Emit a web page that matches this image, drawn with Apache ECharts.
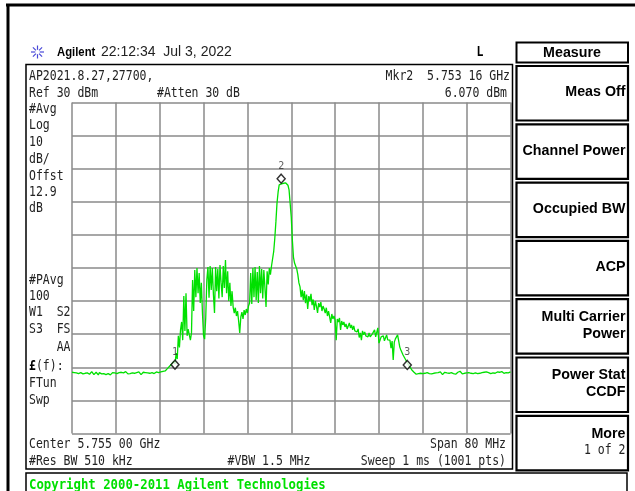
<!DOCTYPE html>
<html><head><meta charset="utf-8">
<script src="https://cdn.jsdelivr.net/npm/echarts@6/dist/echarts.min.js"></script>
<style>html,body{margin:0;padding:0;background:#fff}#c{width:635px;height:491px}</style>
</head><body><div id="c"></div>
<script>
// ---------------- DATA ----------------
const startFreqMHz = 5715;
const spanMHz = 80;
const stepMHz = 0.2;
const refLevelDbm = 30;
const dbPerDiv = 10;
const divisions = 10;

// trace level (dBm), one value per 0.2 MHz from 5715 to 5795 MHz
const levels = [
-51.5,-51.9,-51.6,-52.2,-51.7,-51.4,-51.9,-52.3,-51.6,-51.8,
-52.0,-51.5,-51.8,-52.4,-51.7,-51.6,-52.1,-51.9,-51.3,-51.8,
-52.2,-51.7,-51.5,-51.9,-52.3,-51.6,-51.8,-52.0,-51.4,-51.9,
-51.7,-52.2,-51.6,-51.9,-51.5,-52.3,-51.8,-51.6,-52.0,-51.7,
-51.4,-51.9,-52.2,-51.6,-51.8,-51.5,-52.1,-51.7,-51.9,-51.3,
-51.8,-52.0,-51.6,-51.9,-52.3,-51.7,-51.5,-51.8,-52.1,-51.6,
-51.9,-51.4,-51.7,-52.2,-51.8,-51.5,-51.9,-51.6,-52.0,-51.7,
-51.5,-51.8,-52.1,-51.6,-51.3,-51.9,-51.7,-51.4,-51.8,-51.6,
-51.7,-51.4,-51.6,-51.2,-50.9,-51.1,-50.6,-50.4,-50.0,-49.7,
-49.4,-49.0,-48.7,-48.2,-49.0,-45.7,-47.5,-40.5,-44.0,-38.7,
-36.3,-41.8,-28.5,-39.0,-27.6,-40.5,-38.5,-40.2,-41.8,-39.6,
-23.6,-33.0,-20.6,-28.8,-20.0,-27.6,-21.5,-30.6,-24.5,-33.6,
-40.5,-41.5,-35.0,-23.6,-19.7,-29.0,-19.4,-26.6,-20.0,-28.0,
-33.6,-19.7,-27.0,-20.3,-29.2,-19.1,-24.5,-28.8,-19.4,-26.0,
-17.6,-27.6,-21.0,-30.0,-24.5,-31.5,-27.0,-31.8,-33.6,-32.0,
-34.5,-33.0,-36.0,-39.6,-34.8,-33.3,-35.4,-32.7,-34.2,-32.4,
-33.6,-31.5,-30.6,-21.5,-30.9,-20.0,-28.8,-19.7,-29.7,-21.2,
-30.6,-19.4,-27.6,-20.3,-29.2,-20.6,-26.0,-31.8,-21.0,-25.0,
-20.0,-22.0,-19.4,-19.7,-15.0,-11.0,-6.0,-0.4,2.9,5.1,
5.7,5.4,5.8,5.6,5.3,5.7,5.5,5.0,3.6,-0.5,
-4.6,-11.5,-16.7,-18.5,-19.4,-20.3,-22.0,-24.5,-25.7,-28.8,
-26.6,-29.7,-27.0,-30.6,-28.0,-32.4,-28.5,-30.0,-27.8,-31.2,
-29.5,-32.7,-30.0,-31.5,-33.6,-30.6,-31.8,-30.3,-33.0,-31.5,
-32.4,-33.6,-32.0,-34.5,-33.0,-34.8,-36.6,-33.9,-35.4,-34.5,
-35.7,-41.8,-35.4,-36.3,-35.1,-38.7,-36.0,-37.2,-36.3,-37.8,
-36.9,-38.4,-37.5,-36.6,-38.1,-37.2,-38.7,-37.5,-39.0,-38.4,
-39.3,-38.4,-41.0,-39.6,-41.8,-39.0,-40.2,-39.3,-40.5,-39.9,
-40.8,-39.6,-40.8,-41.4,-39.9,-40.5,-38.7,-40.8,-41.4,-38.1,
-42.7,-41.8,-40.8,-41.4,-40.5,-42.0,-41.1,-40.2,-41.7,-41.1,
-41.8,-44.2,-42.1,-47.8,-42.4,-41.4,-40.8,-40.2,-42.0,-43.9,
-44.8,-45.4,-46.3,-46.9,-47.5,-47.8,-48.7,-49.3,-49.8,-50.2,
-50.8,-51.1,-51.5,-51.8,-52.1,-51.7,-51.9,-52.3,-51.8,-51.6,
-51.9,-51.5,-51.8,-52.2,-51.6,-51.4,-51.9,-51.7,-52.0,-51.5,
-51.8,-51.3,-51.7,-52.1,-51.6,-51.9,-51.4,-51.8,-52.2,-51.6,
-51.5,-51.9,-51.7,-51.3,-51.8,-52.0,-51.6,-51.4,-51.9,-51.7,
-52.1,-51.6,-51.5,-51.9,-51.2,-51.7,-52.0,-51.6,-51.8,-51.4,
-51.7,-52.2,-51.6,-51.4,-51.8,-51.5,-51.9,-51.3,-51.7,-51.6,
-51.9,-51.5,-51.8,-51.2,-51.6,-52.0,-51.5,-51.7,-51.4,-51.8,
-51.6,-51.3,-51.9,-51.5,-51.7,-51.2,-51.8,-51.6,-51.4,-51.9,
-51.5,-51.7,-51.3,-51.6,-51.8,-51.4,-51.6,-51.2,-51.7,-51.5,
-51.4
];

const markerNames = ['1', '2', '3'];
const markerFreqsMHz = [5733.79, 5753.16, 5776.17];
const markerLevelsDbm = [-50.1, 6.07, -50.2];
const activeMarker = 1;

const leftLabels = ['#Avg', 'Log', '10', 'dB/', 'Offst', '12.9', 'dB', '#PAvg', '100', 'W1  S2', 'S3  FS'];
const softkeyTitle = 'Measure';
const softkeys = [['Meas Off'], ['Channel Power'], ['Occupied BW'], ['ACP'], ['Multi Carrier', 'Power'], ['Power Stat', 'CCDF'], ['More', '1 of 2']];

// ---------------- LAYOUT ----------------
const MONO = '"DejaVu Sans Mono"';
const SANS = '"Liberation Sans", Arial, sans-serif';
const INK = '#222';
const GREEN = '#00e000';

function T(x, y, text, o) {
  o = o || {};
  const al = o.align || 'left';
  return {
    type: 'text', x: x, y: y, scaleX: o.sx || 1, z: 100, silent: true,
    style: {
      text: text, x: 0, y: 0, font: o.font || ('normal 14px ' + MONO),
      fill: o.fill || INK, textAlign: al, align: al,
      textVerticalAlign: 'middle', verticalAlign: 'middle'
    }
  };
}
const scr = (x, y, s, al) => T(x, y, s, { align: al, sx: 0.82 });
function R(x, y, w, h, lw) {
  return { type: 'rect', z: 90, silent: true, shape: { x: x, y: y, width: w, height: h },
    style: { fill: 'rgba(0,0,0,0)', stroke: '#000', lineWidth: lw } };
}
function L(x1, y1, x2, y2, lw, c) {
  return { type: 'line', z: 90, silent: true, shape: { x1: x1, y1: y1, x2: x2, y2: y2 },
    style: { stroke: c || '#000', lineWidth: lw } };
}

const g = [];
// outer frame
g.push(L(6, 5, 635, 5, 3));
g.push(L(8, 4, 8, 491, 3));
// header
const lc = [37.5, 52];
for (let k = 0; k < 8; k++) {
  const a = k * Math.PI / 4;
  g.push(L(lc[0] + Math.cos(a) * 2.2, lc[1] + Math.sin(a) * 2.2, lc[0] + Math.cos(a) * 6.5, lc[1] + Math.sin(a) * 6.5, 1.2, '#4848d8'));
}
g.push(T(57, 52, 'Agilent', { font: 'bold 13px ' + SANS, sx: 0.87, fill: '#000' }));
g.push(T(101, 52.5, '22:12:34  Jul 3, 2022', { font: 'normal 14px ' + SANS }));
g.push(T(476.5, 52, 'L', { font: 'bold 14px ' + MONO, sx: 0.82, fill: '#000' }));

// main screen box
g.push(R(26, 64.5, 486.5, 404.5, 1.5));
g.push(scr(29, 76, 'AP2021.8.27,27700,'));
g.push(scr(29, 93, 'Ref ' + refLevelDbm + ' dBm'));
g.push(scr(157, 93, '#Atten 30 dB'));
const mf = (markerFreqsMHz[activeMarker] / 1000).toFixed(5);
g.push(scr(510, 76, 'Mkr' + markerNames[activeMarker] + '  ' + mf.slice(0, 5) + ' ' + mf.slice(5) + ' GHz', 'right'));
g.push(scr(507, 93, markerLevelsDbm[activeMarker].toFixed(3) + ' dBm', 'right'));
const leftY = [109, 125.5, 142, 159, 176.5, 192, 208, 280, 296, 312.5, 329.5];
leftLabels.forEach((s, i) => g.push(scr(29, leftY[i], s)));
g.push(scr(70.5, 347.5, 'AA', 'right'));
g.push({
  type: 'text', x: 29, y: 366.5, scaleX: 0.82, z: 100, silent: true,
  style: { text: '{b|£}(f):', x: 0, y: 0, font: 'normal 14px ' + MONO, fill: INK,
    textAlign: 'left', align: 'left', textVerticalAlign: 'middle', verticalAlign: 'middle',
    rich: { b: { font: 'bold 14px ' + MONO, fill: '#000' } } }
});
g.push(scr(29, 383.5, 'FTun'));
g.push(scr(29, 400.5, 'Swp'));
const cf = ((startFreqMHz + spanMHz / 2) / 1000).toFixed(5);
g.push(scr(29, 444, 'Center ' + cf.slice(0, 5) + ' ' + cf.slice(5) + ' GHz'));
g.push(scr(506, 444, 'Span ' + spanMHz + ' MHz', 'right'));
g.push(scr(29, 461.5, '#Res BW 510 kHz'));
g.push(scr(227.5, 461.5, '#VBW 1.5 MHz'));
g.push(scr(506, 461.5, 'Sweep 1 ms (1001 pts)', 'right'));

// copyright
g.push(R(26, 473, 601, 30, 1.5));
g.push(T(29, 485, 'Copyright 2000-2011 Agilent Technologies', { font: 'bold 14px ' + MONO, sx: 0.88, fill: GREEN }));

// softkeys
g.push(R(516.5, 42.5, 111.5, 20, 2));
g.push(T(572, 52.5, softkeyTitle, { font: 'bold 15px ' + SANS, sx: 0.95, fill: '#000', align: 'center' }));
softkeys.forEach((lines, k) => {
  const top = 66 + 58.3 * k, h = 54.5, cy = top + h / 2;
  g.push(R(516.5, top, 111.5, h, 2.2));
  if (lines.length === 1) {
    g.push(T(625.5, cy - 1, lines[0], { font: 'bold 15px ' + SANS, sx: 0.95, fill: '#000', align: 'right' }));
  } else {
    g.push(T(625.5, cy - 9.5, lines[0], { font: 'bold 15px ' + SANS, sx: 0.95, fill: '#000', align: 'right' }));
    if (lines[1] === '1 of 2') g.push(T(625.5, cy + 7, lines[1], { font: 'normal 14px ' + MONO, sx: 0.82, align: 'right' }));
    else g.push(T(625.5, cy + 7, lines[1], { font: 'bold 15px ' + SANS, sx: 0.95, fill: '#000', align: 'right' }));
  }
});

const gridLine = { show: true, lineStyle: { color: '#8a8a8a', width: 1.5 } };
const option = {
  animation: false,
  backgroundColor: '#fff',
  grid: { left: 72, top: 102.5, width: 438.5, height: 331, show: false },
  xAxis: { type: 'value', min: 0, max: spanMHz, interval: spanMHz / divisions,
    axisLine: { show: false }, axisTick: { show: false }, axisLabel: { show: false }, splitLine: gridLine },
  yAxis: { type: 'value', min: refLevelDbm - dbPerDiv * divisions, max: refLevelDbm, interval: dbPerDiv,
    axisLine: { show: false }, axisTick: { show: false }, axisLabel: { show: false }, splitLine: gridLine },
  series: [
    { type: 'line', silent: true, symbol: 'none', sampling: null, z: 3,
      lineStyle: { color: GREEN, width: 1.3 },
      data: levels.map((v, i) => [i * stepMHz, v]) },
    { type: 'scatter', silent: true, z: 5, symbol: 'diamond', symbolSize: [8, 9], symbolOffset: [0, -3],
      itemStyle: { color: '#fff', borderColor: '#000', borderWidth: 1.5 },
      label: { show: true, position: 'top', distance: 2, fontSize: 10, color: '#333', fontFamily: 'DejaVu Sans Mono',
        formatter: p => markerNames[p.dataIndex] },
      data: markerFreqsMHz.map((f, i) => [f - startFreqMHz, markerLevelsDbm[i]]) }
  ],
  graphic: g
};
const chart = echarts.init(document.getElementById('c'), null, { renderer: 'canvas' });
chart.setOption(option);
</script>
</body></html>
